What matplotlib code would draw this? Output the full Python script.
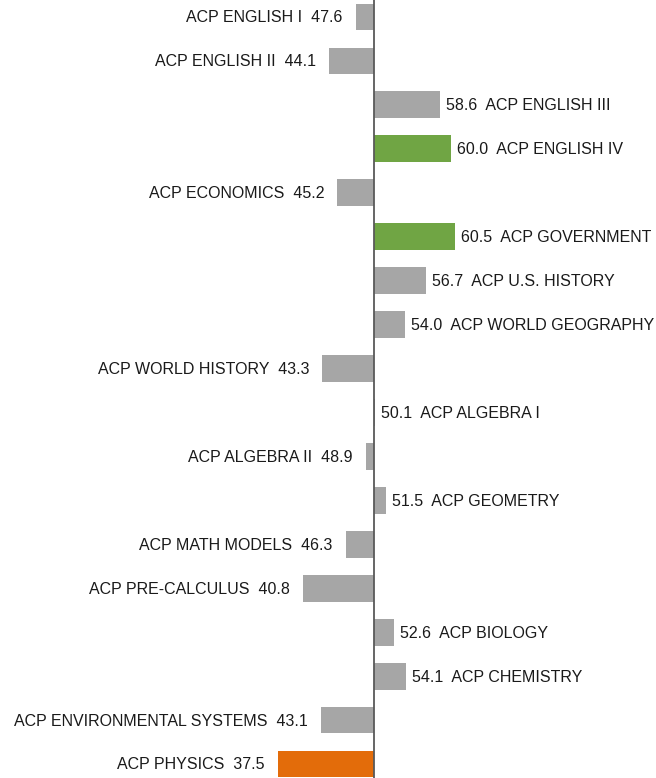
import matplotlib.pyplot as plt
from matplotlib.transforms import offset_copy

courses = ['ACP ENGLISH I', 'ACP ENGLISH II', 'ACP ENGLISH III', 'ACP ENGLISH IV',
           'ACP ECONOMICS', 'ACP GOVERNMENT', 'ACP U.S. HISTORY', 'ACP WORLD GEOGRAPHY',
           'ACP WORLD HISTORY', 'ACP ALGEBRA I', 'ACP ALGEBRA II', 'ACP GEOMETRY',
           'ACP MATH MODELS', 'ACP PRE-CALCULUS', 'ACP BIOLOGY', 'ACP CHEMISTRY',
           'ACP ENVIRONMENTAL SYSTEMS', 'ACP PHYSICS']
scores = [47.6, 44.1, 58.6, 60.0, 45.2, 60.5, 56.7, 54.0, 43.3, 50.1, 48.9, 51.5,
          46.3, 40.8, 52.6, 54.1, 43.1, 37.5]
highlight = {'ACP ENGLISH IV': '#70A544', 'ACP GOVERNMENT': '#70A544',
             'ACP PHYSICS': '#E36C0A'}
base = 50

plt.rcParams['font.family'] = ['Liberation Sans', 'DejaVu Sans']

fig = plt.figure(figsize=(6.56, 7.78), dpi=100)
ax = fig.add_axes([0, 0, 1, 1])

colors = [highlight.get(c, '#A6A6A6') for c in courses]
y = list(range(len(courses)))
ax.barh(y, [s - base for s in scores], left=base, height=0.61, color=colors)
ax.axvline(base, color='#595959', lw=1.3)

right = offset_copy(ax.transData, fig=fig, x=6, y=-1, units='dots')
left = offset_copy(ax.transData, fig=fig, x=-13, y=-1, units='dots')
for i, (c, s) in enumerate(zip(courses, scores)):
    if s >= base:
        ax.text(s, i, f'{s:.1f}  {c}', transform=right, ha='left', va='center',
                fontsize=11.5, color='#1a1a1a')
    else:
        ax.text(s, i, f'{c}  {s:.1f}', transform=left, ha='right', va='center',
                fontsize=11.5, color='#1a1a1a')

ppu = 7.7
ax.set_xlim(base - 374 / ppu, base + (656 - 374) / ppu)
ax.set_ylim((778 - 17) / 43.94, -17 / 43.94)
ax.axis('off')

fig.savefig('out.png', dpi=100)
